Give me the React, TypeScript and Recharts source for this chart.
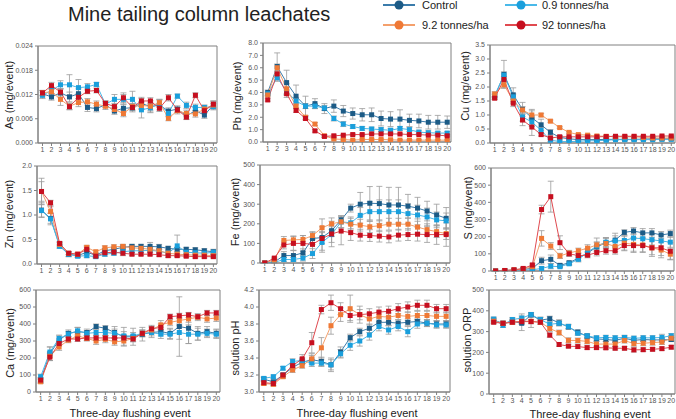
import React from "react";
import { LineChart, Line, XAxis, YAxis, ErrorBar, ReferenceArea } from "recharts";

const events = [1, 2, 3, 4, 5, 6, 7, 8, 9, 10, 11, 12, 13, 14, 15, 16, 17, 18, 19, 20];

// As (mg/event)
const asCtrl = [0.0122, 0.0114, 0.0124, 0.0114, 0.0122, 0.0088, 0.0085, 0.0095, 0.0079, 0.0086, 0.0087, 0.0098, 0.009, 0.0094, 0.0079, 0.0084, 0.0067, 0.008, 0.0069, 0.0094];
const asCtrlErr = [0.0008, 0.0008, 0.001, 0.0012, 0.0012, 0.001, 0.0008, 0.0008, 0.0008, 0.001, 0.001, 0.0015, 0.0015, 0.0012, 0.0008, 0.0008, 0.0008, 0.0008, 0.0008, 0.001];
const asLow = [0.0118, 0.013, 0.0144, 0.0144, 0.0137, 0.0139, 0.0145, 0.0096, 0.0108, 0.0108, 0.0108, 0.0082, 0.0087, 0.0098, 0.0073, 0.0116, 0.0093, 0.0088, 0.0088, 0.009];
const asLowErr = [0.0008, 0.0008, 0.001, 0.0025, 0.002, 0.0008, 0.0005, 0.0008, 0.0012, 0.0012, 0.002, 0.002, 0.001, 0.001, 0.0008, 0.0005, 0.0008, 0.0008, 0.0006, 0.0008];
const asMid = [0.0124, 0.0127, 0.0108, 0.0091, 0.01, 0.0102, 0.0096, 0.0091, 0.0083, 0.0073, 0.009, 0.0093, 0.0091, 0.01, 0.0061, 0.008, 0.0073, 0.0072, 0.0084, 0.0094];
const asMidErr = [0.0006, 0.0006, 0.0015, 0.0008, 0.001, 0.0008, 0.0008, 0.0008, 0.0006, 0.0008, 0.0008, 0.0008, 0.001, 0.0008, 0.0006, 0.0008, 0.0008, 0.0008, 0.0008, 0.0008];
const asHigh = [0.0124, 0.0142, 0.0126, 0.009, 0.0113, 0.0128, 0.013, 0.0098, 0.009, 0.0112, 0.0088, 0.0104, 0.0104, 0.0086, 0.0112, 0.0082, 0.0064, 0.0118, 0.008, 0.0096];
const asHighErr = [0.0006, 0.0008, 0.0008, 0.0008, 0.001, 0.0006, 0.0006, 0.0006, 0.0008, 0.0012, 0.0008, 0.0006, 0.0008, 0.0008, 0.0008, 0.0006, 0.0006, 0.0006, 0.0006, 0.0008];

// Pb (mg/event)
const pbCtrl = [4.0, 6.1, 4.8, 3.7, 2.9, 3.1, 2.7, 2.9, 2.5, 2.3, 2.2, 2.2, 1.9, 1.85, 1.85, 1.75, 1.7, 1.6, 1.6, 1.6];
const pbCtrlErr = [0.2, 1.1, 1.0, 0.9, 0.8, 0.4, 0.4, 0.5, 0.45, 0.45, 0.5, 0.55, 0.6, 0.6, 0.75, 0.5, 0.55, 0.55, 0.55, 0.5];
const pbLow = [3.9, 5.2, 4.1, 3.3, 2.9, 2.9, 2.75, 1.9, 1.45, 1.25, 1.1, 1.05, 1.0, 0.95, 1.1, 1.0, 0.8, 0.75, 0.72, 0.72];
const pbLowErr = [0.15, 0.3, 0.3, 0.3, 0.2, 0.2, 0.2, 0.2, 0.2, 0.15, 0.15, 0.15, 0.15, 0.15, 0.15, 0.15, 0.15, 0.15, 0.12, 0.12];
const pbMid = [3.8, 6.0, 4.3, 2.9, 2.0, 1.45, 0.5, 0.25, 0.2, 0.15, 0.2, 0.2, 0.2, 0.18, 0.15, 0.15, 0.15, 0.15, 0.15, 0.15];
const pbMidErr = [0.15, 0.3, 0.4, 0.2, 0.15, 0.12, 0.1, 0.08, 0.06, 0.05, 0.05, 0.05, 0.05, 0.05, 0.05, 0.05, 0.05, 0.05, 0.05, 0.05];
const pbHigh = [3.4, 5.5, 3.9, 2.55, 1.9, 0.9, 0.45, 0.5, 0.55, 0.6, 0.6, 0.65, 0.65, 0.65, 0.65, 0.6, 0.6, 0.55, 0.55, 0.5];
const pbHighErr = [0.1, 0.3, 0.3, 0.15, 0.12, 0.1, 0.08, 0.08, 0.06, 0.06, 0.06, 0.06, 0.06, 0.06, 0.06, 0.06, 0.06, 0.06, 0.06, 0.06];

// Cu (mg/event)
const cuCtrl = [1.65, 2.45, 1.72, 1.2, 0.9, 0.65, 0.38, 0.2, 0.15, 0.12, 0.12, 0.12, 0.13, 0.13, 0.13, 0.13, 0.14, 0.15, 0.15, 0.15];
const cuCtrlErr = [0.08, 0.5, 0.25, 0.25, 0.3, 0.2, 0.1, 0.05, 0.04, 0.03, 0.03, 0.03, 0.03, 0.03, 0.03, 0.03, 0.03, 0.03, 0.03, 0.03];
const cuLow = [1.7, 2.42, 1.65, 0.93, 0.75, 0.45, 0.1, 0.05, 0.05, 0.06, 0.08, 0.08, 0.1, 0.12, 0.12, 0.12, 0.12, 0.12, 0.13, 0.13];
const cuLowErr = [0.08, 0.12, 0.1, 0.15, 0.15, 0.1, 0.05, 0.03, 0.02, 0.02, 0.02, 0.02, 0.02, 0.02, 0.02, 0.02, 0.02, 0.02, 0.02, 0.02];
const cuMid = [1.75, 2.08, 1.5, 1.18, 1.0, 1.0, 0.78, 0.55, 0.38, 0.3, 0.28, 0.25, 0.24, 0.22, 0.22, 0.22, 0.2, 0.18, 0.18, 0.18];
const cuMidErr = [0.08, 0.1, 0.1, 0.12, 0.15, 0.06, 0.04, 0.03, 0.03, 0.03, 0.03, 0.03, 0.03, 0.03, 0.03, 0.03, 0.03, 0.03, 0.03, 0.03];
const cuHigh = [1.6, 2.27, 1.42, 0.82, 0.57, 0.3, 0.18, 0.22, 0.22, 0.22, 0.22, 0.22, 0.23, 0.24, 0.24, 0.24, 0.24, 0.24, 0.25, 0.25];
const cuHighErr = [0.05, 0.1, 0.12, 0.2, 0.3, 0.05, 0.04, 0.03, 0.03, 0.03, 0.03, 0.03, 0.03, 0.03, 0.03, 0.03, 0.03, 0.03, 0.03, 0.03];

// Zn (mg/event)
const znCtrl = [1.1, 0.93, 0.38, 0.2, 0.17, 0.24, 0.18, 0.27, 0.3, 0.34, 0.36, 0.36, 0.36, 0.35, 0.32, 0.3, 0.3, 0.29, 0.27, 0.25];
const znCtrlErr = [0.15, 0.1, 0.05, 0.05, 0.03, 0.05, 0.04, 0.05, 0.05, 0.05, 0.04, 0.04, 0.08, 0.05, 0.04, 0.04, 0.04, 0.04, 0.04, 0.05];
const znLow = [1.09, 0.92, 0.36, 0.2, 0.16, 0.17, 0.15, 0.2, 0.22, 0.25, 0.27, 0.27, 0.28, 0.26, 0.22, 0.37, 0.24, 0.23, 0.22, 0.24];
const znLowErr = [0.13, 0.12, 0.04, 0.05, 0.03, 0.04, 0.03, 0.04, 0.04, 0.04, 0.04, 0.04, 0.04, 0.04, 0.08, 0.22, 0.05, 0.04, 0.04, 0.04];
const znMid = [1.48, 1.07, 0.4, 0.22, 0.2, 0.34, 0.25, 0.33, 0.35, 0.36, 0.33, 0.32, 0.3, 0.27, 0.22, 0.2, 0.19, 0.18, 0.18, 0.17];
const znMidErr = [0.2, 0.1, 0.04, 0.03, 0.03, 0.04, 0.03, 0.04, 0.04, 0.04, 0.04, 0.04, 0.04, 0.04, 0.04, 0.04, 0.03, 0.03, 0.03, 0.03];
const znHigh = [1.48, 1.25, 0.42, 0.22, 0.2, 0.3, 0.16, 0.23, 0.24, 0.22, 0.2, 0.2, 0.2, 0.19, 0.17, 0.17, 0.16, 0.15, 0.15, 0.15];
const znHighErr = [0.27, 0.05, 0.04, 0.03, 0.03, 0.05, 0.03, 0.03, 0.03, 0.05, 0.03, 0.03, 0.03, 0.03, 0.03, 0.03, 0.03, 0.03, 0.03, 0.03];

// Fe (mg/event)
const feCtrl = [0, 5, 38, 38, 52, 125, 130, 165, 220, 280, 300, 305, 303, 296, 296, 290, 280, 265, 245, 228];
const feCtrlErr = [2, 5, 20, 25, 20, 30, 30, 30, 20, 20, 60, 85, 88, 90, 90, 60, 55, 50, 55, 55];
const feLow = [0, 3, 18, 18, 25, 48, 105, 145, 210, 205, 243, 262, 262, 262, 262, 252, 245, 235, 220, 215];
const feLowErr = [2, 3, 10, 10, 15, 25, 50, 40, 30, 30, 40, 50, 60, 60, 60, 50, 50, 45, 40, 40];
const feMid = [0, 15, 115, 118, 120, 140, 180, 200, 210, 198, 193, 185, 190, 198, 198, 198, 183, 170, 160, 150];
const feMidErr = [2, 5, 20, 20, 20, 20, 45, 30, 30, 30, 30, 30, 30, 30, 30, 30, 30, 30, 30, 30];
const feHigh = [0, 25, 92, 100, 100, 95, 125, 148, 163, 155, 142, 140, 137, 133, 142, 145, 147, 145, 145, 145];
const feHighErr = [2, 5, 20, 35, 40, 35, 60, 65, 70, 40, 30, 30, 30, 30, 30, 30, 35, 40, 50, 60];

// S (mg/event)
const sCtrl = [0, 2, 5, 10, 15, 60, 68, 33, 48, 75, 105, 140, 165, 180, 225, 233, 222, 222, 210, 218];
const sCtrlErr = [2, 3, 5, 5, 8, 20, 25, 10, 10, 15, 20, 25, 30, 40, 15, 20, 25, 25, 20, 20];
const sLow = [0, 1, 3, 5, 7, 15, 28, 25, 42, 68, 110, 145, 168, 175, 178, 192, 188, 182, 175, 168];
const sLowErr = [2, 2, 3, 4, 5, 10, 15, 8, 10, 15, 20, 25, 25, 30, 30, 30, 30, 30, 30, 30];
const sMid = [0, 3, 6, 12, 25, 190, 145, 88, 105, 118, 133, 152, 160, 143, 162, 155, 152, 135, 122, 98];
const sMidErr = [2, 3, 5, 5, 10, 45, 20, 15, 15, 15, 20, 40, 30, 30, 40, 40, 40, 40, 45, 30];
const sHigh = [0, 3, 7, 15, 35, 358, 433, 165, 100, 90, 92, 108, 118, 118, 148, 148, 148, 135, 135, 115];
const sHighErr = [2, 3, 5, 5, 10, 25, 90, 40, 15, 15, 15, 20, 20, 20, 30, 40, 40, 50, 45, 50];

// Ca (mg/event)
const caCtrl = [70, 225, 305, 345, 355, 350, 385, 375, 350, 325, 325, 340, 350, 355, 345, 385, 375, 345, 355, 345];
const caCtrlErr = [15, 40, 25, 20, 25, 20, 15, 15, 35, 55, 50, 40, 30, 25, 30, 175, 90, 40, 30, 25];
const caLow = [90, 235, 315, 340, 360, 345, 350, 350, 345, 330, 330, 345, 350, 340, 340, 350, 340, 340, 345, 340];
const caLowErr = [15, 30, 20, 15, 20, 15, 20, 20, 25, 25, 20, 20, 20, 25, 30, 40, 55, 35, 25, 25];
const caMid = [60, 210, 265, 305, 330, 315, 300, 310, 295, 300, 315, 345, 365, 395, 410, 420, 430, 440, 430, 435];
const caMidErr = [10, 25, 20, 15, 20, 15, 20, 20, 20, 25, 20, 20, 20, 25, 20, 20, 20, 20, 20, 20];
const caHigh = [70, 205, 285, 312, 312, 318, 318, 318, 318, 318, 312, 345, 372, 380, 443, 448, 453, 443, 465, 465];
const caHighErr = [10, 20, 15, 15, 15, 15, 15, 15, 15, 15, 15, 15, 20, 20, 15, 15, 15, 15, 15, 15];

// solution pH
const phCtrl = [3.15, 3.12, 3.2, 3.29, 3.35, 3.38, 3.36, 3.32, 3.47, 3.64, 3.71, 3.75, 3.82, 3.82, 3.81, 3.82, 3.83, 3.81, 3.8, 3.8];
const phCtrlErr = [0.02, 0.02, 0.02, 0.03, 0.03, 0.05, 0.05, 0.08, 0.06, 0.04, 0.04, 0.05, 0.04, 0.04, 0.04, 0.04, 0.04, 0.04, 0.04, 0.04];
const phLow = [3.16, 3.18, 3.28, 3.36, 3.37, 3.34, 3.34, 3.32, 3.45, 3.55, 3.6, 3.67, 3.77, 3.73, 3.77, 3.71, 3.8, 3.81, 3.79, 3.79];
const phLowErr = [0.02, 0.02, 0.02, 0.03, 0.03, 0.04, 0.04, 0.06, 0.05, 0.06, 0.06, 0.06, 0.05, 0.05, 0.05, 0.06, 0.05, 0.04, 0.04, 0.04];
const phMid = [3.1, 3.09, 3.18, 3.26, 3.31, 3.39, 3.52, 3.78, 3.91, 3.98, 3.91, 3.86, 3.89, 3.88, 3.9, 3.89, 3.9, 3.9, 3.89, 3.89];
const phMidErr = [0.02, 0.02, 0.02, 0.03, 0.03, 0.06, 0.12, 0.1, 0.08, 0.16, 0.1, 0.07, 0.06, 0.05, 0.05, 0.05, 0.05, 0.05, 0.05, 0.05];
const phHigh = [3.11, 3.1, 3.2, 3.31, 3.39, 3.58, 3.97, 4.05, 3.98, 3.9, 3.91, 3.92, 3.94, 3.95, 3.98, 4.0, 4.02, 4.02, 3.98, 3.98];
const phHighErr = [0.02, 0.02, 0.02, 0.03, 0.05, 0.12, 0.05, 0.09, 0.07, 0.06, 0.06, 0.06, 0.06, 0.06, 0.06, 0.06, 0.06, 0.06, 0.05, 0.05];

// solution ORP
const orpCtrl = [355, 340, 350, 340, 380, 355, 362, 342, 322, 298, 278, 265, 262, 258, 268, 258, 262, 260, 260, 262];
const orpCtrlErr = [10, 10, 10, 35, 10, 15, 12, 15, 10, 10, 10, 10, 10, 10, 10, 10, 10, 10, 10, 10];
const orpLow = [360, 330, 358, 365, 382, 358, 335, 340, 325, 292, 280, 270, 272, 270, 272, 268, 270, 270, 272, 280];
const orpLowErr = [10, 10, 10, 20, 10, 10, 10, 10, 10, 10, 10, 10, 10, 10, 10, 10, 10, 10, 15, 10];
const orpMid = [350, 340, 345, 350, 350, 345, 315, 295, 258, 257, 253, 240, 240, 240, 257, 242, 244, 247, 250, 268];
const orpMidErr = [10, 10, 10, 15, 30, 10, 15, 12, 12, 12, 12, 12, 12, 12, 12, 12, 12, 12, 12, 12];
const orpHigh = [345, 340, 345, 348, 348, 345, 283, 238, 230, 228, 223, 223, 222, 220, 220, 212, 213, 215, 218, 225];
const orpHighErr = [8, 8, 8, 10, 10, 10, 10, 8, 8, 8, 8, 8, 8, 8, 8, 10, 8, 8, 8, 8];

// y-axis tick labels
const asTicks = [0, 0.006, 0.012, 0.018, 0.024];
const pbTicks = [0, 1, 2, 3, 4, 5, 6, 7, 8];
const cuTicks = [0, 0.5, 1, 1.5, 2, 2.5, 3, 3.5];
const znTicks = [0, 0.5, 1, 1.5, 2];
const feTicks = [0, 100, 200, 300, 400, 500];
const sTicks = [0, 100, 200, 300, 400, 500, 600];
const caTicks = [0, 100, 200, 300, 400, 500, 600];
const phTicks = [3.0, 3.2, 3.4, 3.6, 3.8, 4.0, 4.2];
const orpTicks = [0, 100, 200, 300, 400, 500];

const treatments = [
  { key: "ctrl", name: "Control", marker: "#1c5b86", line: "#3b7cab" },
  { key: "low", name: "0.9 tonnes/ha", marker: "#1a9fdc", line: "#4ab9e9" },
  { key: "mid", name: "9.2 tonnes/ha", marker: "#ef7935", line: "#f4a06c" },
  { key: "high", name: "92 tonnes/ha", marker: "#c60f1f", line: "#e04a50" },
];

const FONT = "'Liberation Sans', Arial, sans-serif";
const AXIS = "#808080";
const YW = 30;
const XH = 16;
const PAD = 5;
const X_DOMAIN = [0.5, 20.4];

// minor ticks: 5 subdivisions between major ticks
const minorTicks = (ticks: number[]) => {
  const step = (ticks[1] - ticks[0]) / 5;
  const out: number[] = [];
  for (let i = 0; i < (ticks.length - 1) * 5 + 1; i++) {
    out.push(Math.round((ticks[0] + i * step) * 1e6) / 1e6);
  }
  return out;
};

type PanelDef = {
  label: string;
  series: number[][];
  errs: number[][];
  ticks: number[];
  fmt: (v: number) => string;
  box: [number, number, number, number]; // x0, x1, y0, y1 of plot area
  labelPos: [number, number];
};

const panels: PanelDef[] = [
  { label: "As (mg/event)", series: [asCtrl, asLow, asMid, asHigh], errs: [asCtrlErr, asLowErr, asMidErr, asHighErr], ticks: asTicks, fmt: (v) => v.toFixed(3), box: [38, 217, 46, 143], labelPos: [9, 95] },
  { label: "Pb (mg/event)", series: [pbCtrl, pbLow, pbMid, pbHigh], errs: [pbCtrlErr, pbLowErr, pbMidErr, pbHighErr], ticks: pbTicks, fmt: (v) => v.toFixed(1), box: [263, 451, 43, 142], labelPos: [237, 96] },
  { label: "Cu (mg/event)", series: [cuCtrl, cuLow, cuMid, cuHigh], errs: [cuCtrlErr, cuLowErr, cuMidErr, cuHighErr], ticks: cuTicks, fmt: (v) => v.toFixed(1), box: [490, 675, 45, 143], labelPos: [465, 86] },
  { label: "Zn (mg/event)", series: [znCtrl, znLow, znMid, znHigh], errs: [znCtrlErr, znLowErr, znMidErr, znHighErr], ticks: znTicks, fmt: (v) => v.toFixed(1), box: [37, 217, 166, 264], labelPos: [9, 214] },
  { label: "Fe (mg/event)", series: [feCtrl, feLow, feMid, feHigh], errs: [feCtrlErr, feLowErr, feMidErr, feHighErr], ticks: feTicks, fmt: (v) => String(v), box: [260, 450, 165, 263], labelPos: [235, 212] },
  { label: "S (mg/event)", series: [sCtrl, sLow, sMid, sHigh], errs: [sCtrlErr, sLowErr, sMidErr, sHighErr], ticks: sTicks, fmt: (v) => String(v), box: [491, 674, 168, 271], labelPos: [468, 208] },
  { label: "Ca (mg/event)", series: [caCtrl, caLow, caMid, caHigh], errs: [caCtrlErr, caLowErr, caMidErr, caHighErr], ticks: caTicks, fmt: (v) => String(v), box: [36, 220, 290, 392], labelPos: [10, 343] },
  { label: "solution pH", series: [phCtrl, phLow, phMid, phHigh], errs: [phCtrlErr, phLowErr, phMidErr, phHighErr], ticks: phTicks, fmt: (v) => v.toFixed(1), box: [259, 450, 290, 392], labelPos: [235, 348] },
  { label: "solution ORP", series: [orpCtrl, orpLow, orpMid, orpHigh], errs: [orpCtrlErr, orpLowErr, orpMidErr, orpHighErr], ticks: orpTicks, fmt: (v) => String(v), box: [489, 675, 290, 394], labelPos: [467, 340] },
];

const squareDot = (color: string) => (props: any) => {
  const { cx, cy, index } = props;
  if (cx == null || cy == null) return <g key={`e${index}`} />;
  return <rect key={`d${index}`} x={cx - 2.5} y={cy - 2.5} width={5} height={5} fill={color} />;
};

function Panel({ p }: { p: PanelDef }) {
  const [x0, x1, y0, y1] = p.box;
  const domain = [p.ticks[0], p.ticks[p.ticks.length - 1]];
  const rows = events.map((ev, i) => {
    const row: Record<string, number> = { ev };
    treatments.forEach((t, k) => {
      row[t.key] = p.series[k][i];
      row[t.key + "Err"] = p.errs[k][i];
    });
    return row;
  });

  return (
    <div style={{ position: "absolute", left: x0 - YW, top: y0 - PAD }}>
      <LineChart
        width={x1 - x0 + YW + PAD}
        height={y1 - y0 + XH + PAD}
        data={rows}
        margin={{ top: PAD, right: PAD, left: 0, bottom: 0 }}
      >
        <XAxis
          dataKey="ev"
          type="number"
          domain={X_DOMAIN}
          ticks={events}
          interval={0}
          height={XH}
          tickSize={3}
          tickMargin={1}
          axisLine={{ stroke: AXIS }}
          tickLine={{ stroke: AXIS }}
          tick={{ fontSize: 7, fill: "#555", fontFamily: FONT }}
          allowDataOverflow
        />
        <YAxis
          yAxisId="minor"
          type="number"
          width={0}
          domain={domain}
          ticks={minorTicks(p.ticks)}
          tick={false}
          tickSize={2}
          axisLine={false}
          tickLine={{ stroke: AXIS }}
          allowDataOverflow
        />
        <YAxis
          yAxisId="main"
          type="number"
          width={YW}
          domain={domain}
          ticks={p.ticks}
          interval={0}
          tickFormatter={p.fmt}
          tickSize={3}
          tickMargin={2}
          axisLine={{ stroke: AXIS }}
          tickLine={{ stroke: AXIS }}
          tick={{ fontSize: 7, fill: "#555", fontFamily: FONT }}
          allowDataOverflow
        />
        <ReferenceArea
          yAxisId="main"
          x1={X_DOMAIN[0]}
          x2={X_DOMAIN[1]}
          y1={domain[0]}
          y2={domain[1]}
          fill="none"
          stroke={AXIS}
          strokeWidth={1}
          ifOverflow="visible"
        />
        {treatments.map((t) => (
          <Line
            key={t.key}
            yAxisId="main"
            dataKey={t.key}
            stroke={t.line}
            strokeWidth={1}
            dot={squareDot(t.marker)}
            activeDot={false}
            isAnimationActive={false}
          >
            <ErrorBar
              dataKey={t.key + "Err"}
              direction="y"
              width={3}
              stroke="#9a9a9a"
              strokeWidth={0.8}
              isAnimationActive={false}
            />
          </Line>
        ))}
      </LineChart>
    </div>
  );
}

// legend entries: [treatment index, line start x, text x, center y]
const legendItems: [number, number, number, number][] = [
  [0, 383, 422, 5],
  [1, 505, 542, 5],
  [2, 383, 422, 25],
  [3, 505, 542, 25],
];

const xLabels: [number, number][] = [
  [130, 413],
  [357, 413],
  [590, 414],
];

export default function App() {
  return (
    <div
      style={{
        position: "absolute",
        left: 0,
        top: 0,
        width: 676,
        height: 419,
        overflow: "hidden",
        background: "#fff",
        fontFamily: FONT,
      }}
    >
      <svg width={676} height={419} style={{ position: "absolute", left: 0, top: 0 }}>
        <text x={68} y={14} fontSize={20} fill="#222" dominantBaseline="central" fontFamily={FONT}>
          Mine tailing column leachates
        </text>
        {legendItems.map(([k, lx, tx, cy]) => {
          const t = treatments[k];
          return (
            <g key={t.key}>
              <line x1={lx} x2={lx + 32} y1={cy} y2={cy} stroke={t.line} strokeWidth={2} />
              <circle cx={lx + 16} cy={cy} r={4.5} fill={t.marker} />
              <text x={tx} y={cy} fontSize={11} fill="#222" dominantBaseline="central" fontFamily={FONT}>
                {t.name}
              </text>
            </g>
          );
        })}
        {panels.map((p) => (
          <text
            key={p.label}
            x={p.labelPos[0]}
            y={p.labelPos[1]}
            fontSize={11}
            fill="#222"
            textAnchor="middle"
            dominantBaseline="central"
            fontFamily={FONT}
            transform={`rotate(-90 ${p.labelPos[0]} ${p.labelPos[1]})`}
          >
            {p.label}
          </text>
        ))}
        {xLabels.map(([x, y], i) => (
          <text key={i} x={x} y={y} fontSize={11} fill="#222" textAnchor="middle" dominantBaseline="central" fontFamily={FONT}>
            Three-day flushing event
          </text>
        ))}
      </svg>
      {panels.map((p) => (
        <Panel key={p.label} p={p} />
      ))}
    </div>
  );
}
